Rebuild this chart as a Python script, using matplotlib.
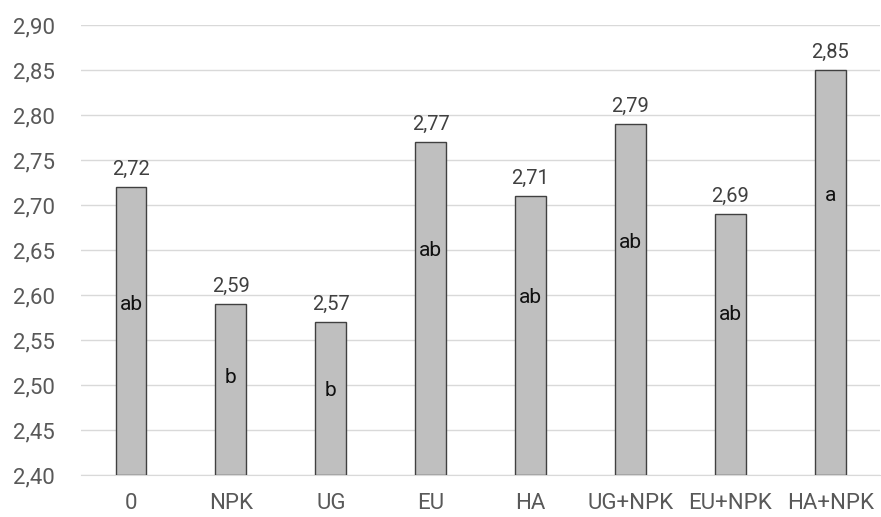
import matplotlib
matplotlib.use("Agg")
import matplotlib.pyplot as plt
import numpy as np

plt.rcParams['font.family'] = ['Roboto', 'DejaVu Sans']

treatments = ['0', 'NPK', 'UG', 'EU', 'HA', 'UG+NPK', 'EU+NPK', 'HA+NPK']
values = [2.72, 2.59, 2.57, 2.77, 2.71, 2.79, 2.69, 2.85]
groups = ['ab', 'b', 'b', 'ab', 'ab', 'ab', 'ab', 'a']
group_y = [2.590, 2.508, 2.494, 2.650, 2.597, 2.658, 2.578, 2.711]

fig = plt.figure(figsize=(8.81, 5.17), dpi=100)
ax = fig.add_axes([0.092, 0.0812, 0.907, 0.8704])

x = np.arange(len(treatments))
ax.bar(x, np.array(values) - 2.40, bottom=2.40, width=0.31,
       color='#bfbfbf', edgecolor='#404040', linewidth=1.0, zorder=3)

# value labels above each bar
for xi, v in zip(x, values):
    ax.text(xi, v + 0.009, f'{v:.2f}'.replace('.', ','), ha='center', va='bottom',
            fontsize=14.5, color='#404040', zorder=4)

# significance letters inside bars
for xi, g, gy in zip(x, groups, group_y):
    ax.text(xi, gy, g, ha='center', va='center', fontsize=15, color='#111111', zorder=4)

ax.set_xlim(-0.5, len(treatments) - 0.5)
ax.set_ylim(2.40, 2.90)
yt = np.round(np.arange(2.40, 2.901, 0.05), 2)
ax.set_yticks(yt)
ax.set_yticklabels([f'{t:.2f}'.replace('.', ',') for t in yt])
ax.set_xticks(x)
ax.set_xticklabels(treatments)
ax.tick_params(axis='both', length=0, labelsize=16, colors='#595959')
ax.tick_params(axis='y', pad=19)
ax.tick_params(axis='x', pad=13)

ax.grid(axis='y', color='#d9d9d9', linewidth=1.0, zorder=0)
for s in ['top', 'right', 'left']:
    ax.spines[s].set_visible(False)
ax.spines['bottom'].set_color('#d9d9d9')

fig.savefig('out.png', dpi=100)
